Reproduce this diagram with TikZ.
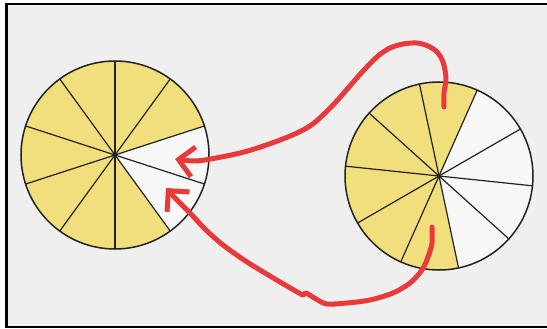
\documentclass[tikz,border=0pt]{standalone}
\usetikzlibrary{arrows.meta}
\definecolor{bg}{HTML}{EFEFEF}
\definecolor{pie}{HTML}{F0DF7C}
\definecolor{blank}{HTML}{F7F7F7}
\definecolor{ink}{HTML}{E8393B}
\definecolor{edge}{HTML}{222222}
\begin{document}
\begin{tikzpicture}[x=1pt,y=-1pt,
  spoke/.style={draw=edge, line width=1.2pt},
  rim/.style={draw=edge, line width=1.5pt},
  stroke/.style={draw=ink, line width=5pt, line cap=round, line join=round,
    -{Straight Barb[length=15pt,width=30pt]}}]
\useasboundingbox (0,0) rectangle (547,329);
\fill[white] (0,0) rectangle (547,329);
\fill[bg] (6.5,4) rectangle (549,327);
\draw[line width=2.5pt] (549,4) -- (6.5,4) -- (6.5,327) -- (549,327);

% left pie
\coordinate (L) at (115,155);
\begin{scope}[shift={(L)}, y=1pt]
  \fill[pie] (0,0) -- (18:94) arc[start angle=18, end angle=306, radius=94] -- cycle;
  \fill[blank] (0,0) -- (-54:94) arc[start angle=-54, end angle=18, radius=94] -- cycle;
  \foreach \a in {18,54,...,342} \draw[spoke] (0,0) -- (\a:94);
  \draw[rim] (0,0) circle[radius=94];
  \fill[edge] (0,0) circle[radius=1.8];
\end{scope}

% right pie
\coordinate (R) at (439,176);
\begin{scope}[shift={(R)}, y=1pt]
  \fill[pie] (0,0) -- (66:94) arc[start angle=66, end angle=282, radius=94] -- cycle;
  \fill[blank] (0,0) -- (-78:94) arc[start angle=-78, end angle=66, radius=94] -- cycle;
  \foreach \a in {-6,30,...,318} \draw[spoke] (0,0) -- (\a:94);
  \draw[rim] (0,0) circle[radius=94];
  \fill[edge] (0,0) circle[radius=1.8];
\end{scope}

% arrow ends
\coordinate (a1s) at (444,107);
\coordinate (a1e) at (175,159);
\coordinate (a2s) at (432,227);
\coordinate (a2e) at (166,188);

\draw[stroke] plot[smooth, tension=0.55] coordinates {(a1s) (444,93) (446,78) (443,62) (437,52) (428,46) (417,43) (403,44) (390,48) (378,56) (363,71) (349,87) (333,105) (314,123) (297,133) (272,143) (244,152) (216,158) (195,161) (a1e)};

\draw[stroke] plot[smooth, tension=0.5] coordinates {(a2s) (432,243) (428,257) (422,270) (410,283) (393,293) (370,300) (347,303) (327,304) (316,299) (306,293) (303,295) (299,293) (280,282) (260,270) (244,260) (223,245) (206,230) (190,213) (176,199) (a2e)};
\end{tikzpicture}
\end{document}
